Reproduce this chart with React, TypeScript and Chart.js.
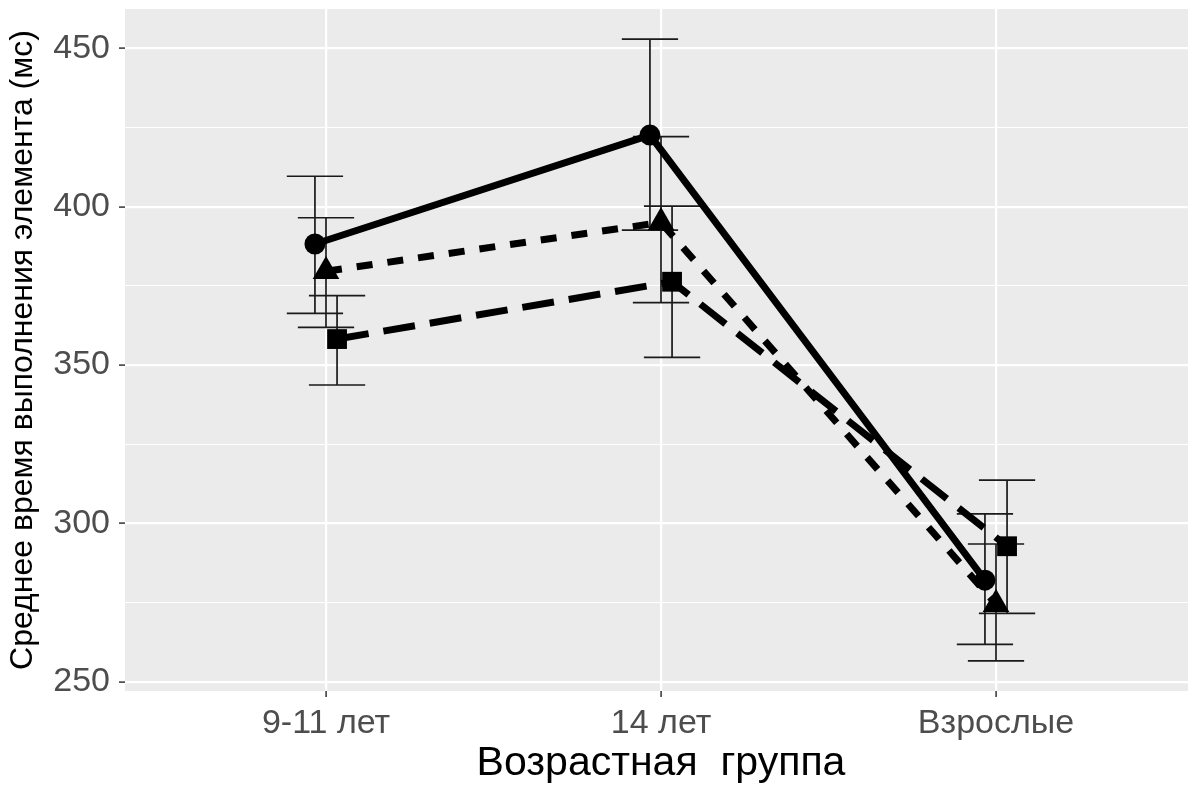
import React, { useEffect, useRef } from 'react';
import { Chart, registerables } from 'chart.js';

Chart.register(...registerables);

// ---- data ----
const categories = ['9-11 лет', '14 лет', 'Взрослые'];

const circleMean = [388.2, 422.6, 282.1];
const circleLow = [366.3, 392.6, 261.8];
const circleHigh = [409.6, 452.9, 303.0];

const triangleMean = [379.6, 395.0, 274.5];
const triangleLow = [361.9, 369.7, 256.6];
const triangleHigh = [396.5, 422.1, 293.5];

const squareMean = [358.2, 376.3, 292.8];
const squareLow = [343.7, 352.4, 271.6];
const squareHigh = [371.9, 400.2, 313.7];

const yTickValues = [250, 300, 350, 400, 450];

const xTitle = 'Возрастная  группа';
const yTitle = 'Среднее время выполнения элемента (мс)';

// ---- style constants ----
const DODGE = 0.033;
const CAP = 0.084;
const FONT = "'Liberation Sans', Arial, Helvetica, sans-serif";

const series = [
  { mean: circleMean, low: circleLow, high: circleHigh, off: -DODGE, dash: [] as number[], style: 'circle', radius: 10.5 },
  { mean: triangleMean, low: triangleLow, high: triangleHigh, off: 0, dash: [16, 15], style: 'triangle', radius: 15.4 },
  { mean: squareMean, low: squareLow, high: squareHigh, off: DODGE, dash: [32, 15], style: 'rect', radius: 14 },
];

const bgPlugin = {
  id: 'panelBg',
  beforeDraw(chart: any) {
    const { ctx, chartArea } = chart;
    ctx.save();
    ctx.fillStyle = '#ffffff';
    ctx.fillRect(0, 0, chart.width, chart.height);
    ctx.fillStyle = '#ebebeb';
    ctx.fillRect(chartArea.left, chartArea.top, chartArea.right - chartArea.left, chartArea.bottom - chartArea.top);
    ctx.restore();
  },
};

const errorBarPlugin = {
  id: 'errorBars',
  beforeDatasetsDraw(chart: any) {
    const { ctx, chartArea } = chart;
    const x = chart.scales.x;
    const y = chart.scales.y;
    ctx.save();
    ctx.beginPath();
    ctx.rect(chartArea.left, chartArea.top, chartArea.right - chartArea.left, chartArea.bottom - chartArea.top);
    ctx.clip();
    ctx.strokeStyle = '#1a1a1a';
    ctx.lineWidth = 1.7;
    series.forEach((s) => {
      s.mean.forEach((_m, i) => {
        const cx = i + 1 + s.off;
        const px = x.getPixelForValue(cx);
        const pl = x.getPixelForValue(cx - CAP);
        const pr = x.getPixelForValue(cx + CAP);
        const yl = y.getPixelForValue(s.low[i]);
        const yh = y.getPixelForValue(s.high[i]);
        ctx.beginPath();
        ctx.moveTo(px, yl);
        ctx.lineTo(px, yh);
        ctx.moveTo(pl, yl);
        ctx.lineTo(pr, yl);
        ctx.moveTo(pl, yh);
        ctx.lineTo(pr, yh);
        ctx.stroke();
      });
    });
    ctx.restore();
  },
};

const zeroPadding = (scale: any) => {
  scale.paddingTop = 0;
  scale.paddingBottom = 0;
  scale.paddingLeft = 0;
  scale.paddingRight = 0;
};

export default function App() {
  const ref = useRef<HTMLCanvasElement | null>(null);

  useEffect(() => {
    if (!ref.current) return;
    const lineSets = series.map((s) => ({
      type: 'line' as const,
      data: s.mean.map((v, i) => ({ x: i + 1 + s.off, y: v })),
      borderColor: '#000000',
      borderWidth: 7,
      borderDash: s.dash,
      borderCapStyle: 'butt' as const,
      pointRadius: 0,
      fill: false,
      tension: 0,
      order: 1,
    }));
    const pointSets = series.map((s) => ({
      type: 'line' as const,
      data: s.mean.map((v, i) => ({ x: i + 1 + s.off, y: v })),
      showLine: false,
      pointStyle: s.style,
      pointRadius: s.radius,
      pointBackgroundColor: '#000000',
      pointBorderColor: '#000000',
      pointBorderWidth: 0,
      order: 0,
    }));

    const chart = new Chart(ref.current, {
      type: 'line',
      data: { datasets: [...lineSets, ...pointSets] as any },
      options: {
        animation: false,
        responsive: false,
        devicePixelRatio: 1,
        layout: { autoPadding: false, padding: { top: 9, left: 0, right: 0, bottom: 0 } },
        plugins: { legend: { display: false }, tooltip: { enabled: false } },
        scales: {
          x: {
            type: 'linear',
            min: 0.4,
            max: 3.6,
            afterBuildTicks: (scale: any) => {
              scale.ticks = categories.map((_c, i) => ({ value: i + 1 }));
            },
            afterFit: (scale: any) => {
              scale.height = 96;
              zeroPadding(scale);
            },
            border: { display: false },
            grid: {
              color: '#ffffff',
              lineWidth: 2.2,
              tickColor: '#333333',
              tickLength: 6,
              tickWidth: 1.5,
            },
            ticks: {
              autoSkip: false,
              maxRotation: 0,
              padding: 6,
              color: '#4d4d4d',
              font: { family: FONT, size: 34 },
              callback: (v: any) => categories[Math.round(Number(v)) - 1] ?? '',
            },
            title: {
              display: true,
              text: xTitle,
              color: '#000000',
              font: { family: FONT, size: 41, lineHeight: 1 },
              padding: { top: 0, bottom: 3 },
            },
          },
          y: {
            type: 'linear',
            min: 247.1,
            max: 462.4,
            afterBuildTicks: (scale: any) => {
              const t: any[] = [];
              yTickValues.forEach((v, i) => {
                t.push({ value: v });
                if (i < yTickValues.length - 1) t.push({ value: (v + yTickValues[i + 1]) / 2 });
              });
              scale.ticks = t;
            },
            afterFit: (scale: any) => {
              scale.width = 125;
              zeroPadding(scale);
            },
            border: { display: false },
            grid: {
              color: '#ffffff',
              lineWidth: (c: any) => (yTickValues.includes(c.tick?.value) ? 2.2 : 1.1),
              tickColor: (c: any) => (yTickValues.includes(c.tick?.value) ? '#333333' : 'rgba(0,0,0,0)'),
              tickLength: 6,
              tickWidth: 1.5,
            },
            ticks: {
              autoSkip: false,
              padding: 9,
              color: '#4d4d4d',
              font: { family: FONT, size: 34 },
              callback: (v: any) => (yTickValues.includes(Number(v)) ? String(v) : ''),
            },
            title: {
              display: true,
              text: yTitle,
              color: '#000000',
              font: { family: FONT, size: 32, lineHeight: 1 },
              padding: { top: 7, bottom: 0 },
            },
          },
        },
      },
      plugins: [bgPlugin, errorBarPlugin],
    });
    return () => chart.destroy();
  }, []);

  return (
    <div style={{ position: 'fixed', left: 0, top: 0, width: 1188, height: 787, overflow: 'hidden', background: '#fff' }}>
      <canvas ref={ref} width={1197} height={787} style={{ display: 'block', width: 1197, height: 787 }} />
    </div>
  );
}
